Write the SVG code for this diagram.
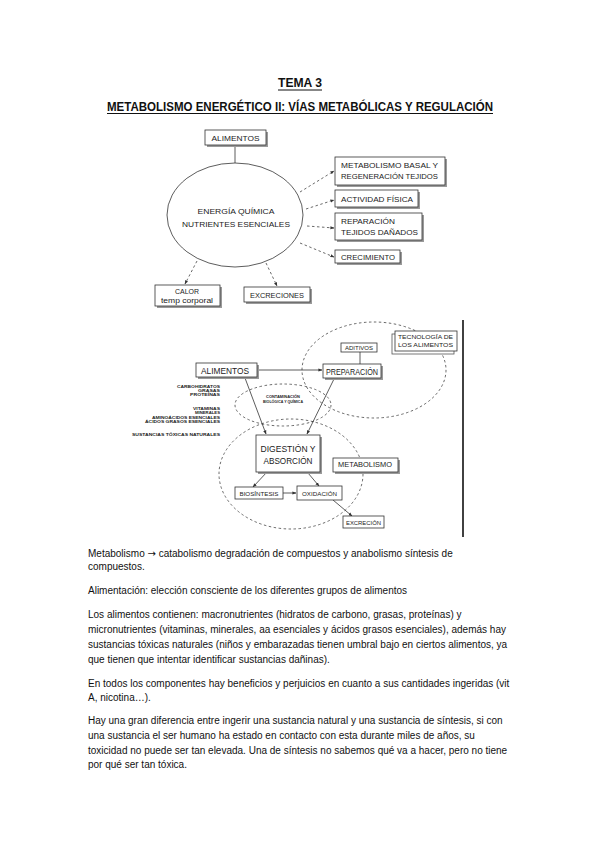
<svg xmlns="http://www.w3.org/2000/svg" width="599" height="848" viewBox="0 0 599 848">
<style>
.bg{fill:#fff}
.box{fill:#fff;stroke:#333;stroke-width:0.8}
.sh{fill:#9a9a9a}
.ln{stroke:#333;stroke-width:0.8;fill:none}
.dl{stroke:#444;stroke-width:0.8;fill:none;stroke-dasharray:2.5 2.5}
.hd{font-family:"Liberation Sans",Arial,sans-serif;fill:#222;text-anchor:middle}
.lt{font-family:"Liberation Sans",Arial,sans-serif;fill:#222}
.lb{font-family:"Liberation Sans",Arial,sans-serif;fill:#222;font-weight:bold}
.bt{font-family:"Liberation Sans",Arial,sans-serif;font-size:10px;fill:#111}
.ti{font-family:"Liberation Sans",Arial,sans-serif;font-weight:bold;fill:#111}
</style>
<defs>
<marker id="ah" viewBox="0 0 10 10" refX="9" refY="5" markerWidth="5" markerHeight="5" orient="auto">
<path d="M0,1 L10,5 L0,9 z" fill="#333"/>
</marker>
</defs>
<rect class="bg" width="599" height="848"/>

<g id="title">
<text class="ti" x="300" y="87" font-size="12.5" text-anchor="middle" textLength="44" lengthAdjust="spacingAndGlyphs">TEMA 3</text>
<line x1="278" y1="90" x2="322" y2="90" stroke="#111" stroke-width="1"/>
<text class="ti" x="107" y="110.5" font-size="12.5" textLength="386" lengthAdjust="spacingAndGlyphs">METABOLISMO ENERGÉTICO II: VÍAS METABÓLICAS Y REGULACIÓN</text>
<line x1="107" y1="113.5" x2="493" y2="113.5" stroke="#111" stroke-width="1"/>
</g>

<!-- Diagram 1 -->
<g id="d1-connectors">
<line class="ln" x1="235" y1="145" x2="235" y2="163"/>
<line class="dl" x1="300" y1="192" x2="334" y2="171" marker-end="url(#ah)"/>
<line class="dl" x1="306" y1="209" x2="334" y2="200" marker-end="url(#ah)"/>
<line class="dl" x1="307" y1="226" x2="334" y2="228" marker-end="url(#ah)"/>
<line class="dl" x1="300" y1="243" x2="334" y2="257" marker-end="url(#ah)"/>
<line class="dl" x1="197" y1="261" x2="185" y2="284" marker-end="url(#ah)"/>
<line class="dl" x1="266" y1="263" x2="277" y2="286" marker-end="url(#ah)"/>
</g>
<g id="d1-alimentos">
<rect class="sh" x="207" y="132" width="61" height="15"/>
<rect class="box" x="205" y="130" width="61" height="15"/>
<text class="hd" x="235.5" y="140.5" font-size="7" textLength="48" lengthAdjust="spacingAndGlyphs">ALIMENTOS</text>
</g>
<g id="d1-energia">
<ellipse cx="235" cy="215" rx="68" ry="52" fill="none" stroke="#333" stroke-width="0.8"/>
<text class="hd" x="236" y="213.5" font-size="8" textLength="77" lengthAdjust="spacingAndGlyphs">ENERGÍA QUÍMICA</text>
<text class="hd" x="236" y="226.5" font-size="8" textLength="108" lengthAdjust="spacingAndGlyphs">NUTRIENTES ESENCIALES</text>
</g>
<g id="d1-metabolismo">
<rect class="sh" x="337" y="159" width="110" height="28"/>
<rect class="box" x="335" y="157" width="110" height="28"/>
<text class="lt" x="341" y="168" font-size="7.5" textLength="97" lengthAdjust="spacingAndGlyphs">METABOLISMO BASAL Y</text>
<text class="lt" x="341" y="179" font-size="7.5" textLength="97" lengthAdjust="spacingAndGlyphs">REGENERACIÓN TEJIDOS</text>
</g>
<g id="d1-actividad">
<rect class="sh" x="337" y="192" width="83" height="17"/>
<rect class="box" x="335" y="190" width="83" height="17"/>
<text class="lt" x="341" y="201.5" font-size="7.5" textLength="72" lengthAdjust="spacingAndGlyphs">ACTIVIDAD FÍSICA</text>
</g>
<g id="d1-reparacion">
<rect class="sh" x="337" y="215" width="87" height="27"/>
<rect class="box" x="335" y="213" width="87" height="27"/>
<text class="lt" x="341" y="223.5" font-size="7.5" textLength="54" lengthAdjust="spacingAndGlyphs">REPARACIÓN</text>
<text class="lt" x="341" y="235" font-size="7.5" textLength="77" lengthAdjust="spacingAndGlyphs">TEJIDOS DAÑADOS</text>
</g>
<g id="d1-crecimiento">
<rect class="sh" x="337" y="252" width="65" height="13"/>
<rect class="box" x="335" y="250" width="65" height="13"/>
<text class="lt" x="341" y="259.5" font-size="7.5" textLength="54" lengthAdjust="spacingAndGlyphs">CRECIMIENTO</text>
</g>
<g id="d1-calor">
<rect class="sh" x="157" y="287" width="65" height="21"/>
<rect class="box" x="155" y="285" width="65" height="21"/>
<text class="hd" x="187" y="294" font-size="7" textLength="24" lengthAdjust="spacingAndGlyphs">CALOR</text>
<text class="hd" x="187" y="303" font-size="7" textLength="52" lengthAdjust="spacingAndGlyphs">temp corporal</text>
</g>
<g id="d1-excreciones">
<rect class="sh" x="246" y="289" width="66" height="15"/>
<rect class="box" x="244" y="287" width="66" height="15"/>
<text class="hd" x="277" y="297.5" font-size="7" textLength="54" lengthAdjust="spacingAndGlyphs">EXCRECIONES</text>
</g>

<!-- Diagram 2 -->
<g id="d2-regions">
<line x1="463" y1="320" x2="463" y2="537" stroke="#111" stroke-width="1.6"/>
<ellipse cx="374" cy="370" rx="72" ry="48" class="dl"/>
<ellipse cx="283" cy="405" rx="48" ry="21" class="dl"/>
<ellipse cx="291" cy="474" rx="72" ry="55" class="dl"/>
</g>
<g id="d2-connectors">
<line class="ln" x1="257" y1="370" x2="322" y2="370" marker-end="url(#ah)"/>
<line class="ln" x1="360" y1="352" x2="360" y2="364"/>
<line class="ln" x1="245" y1="378" x2="266" y2="434" marker-end="url(#ah)"/>
<line class="ln" x1="334" y1="379" x2="307" y2="434" marker-end="url(#ah)"/>
<line class="ln" x1="267" y1="472" x2="253" y2="487" marker-end="url(#ah)"/>
<line class="ln" x1="308" y1="473" x2="319" y2="486" marker-end="url(#ah)"/>
<line class="ln" x1="283" y1="493" x2="296" y2="493" marker-end="url(#ah)"/>
<line class="ln" x1="333" y1="500" x2="352" y2="516" marker-end="url(#ah)"/>
</g>
<g id="d2-tecnologia">
<rect x="392" y="334" width="62" height="20" fill="#fff" stroke="#555" stroke-width="0.8"/>
<rect class="box" x="395" y="331" width="62" height="20"/>
<text class="lt" x="398" y="339" font-size="6" textLength="55" lengthAdjust="spacingAndGlyphs">TECNOLOGÍA DE</text>
<text class="lt" x="398" y="347" font-size="6" textLength="55" lengthAdjust="spacingAndGlyphs">LOS ALIMENTOS</text>
</g>
<g id="d2-aditivos">
<rect class="box" x="341" y="343" width="36" height="9"/>
<text class="hd" x="359" y="349.8" font-size="5" textLength="28" lengthAdjust="spacingAndGlyphs">ADITIVOS</text>
</g>
<g id="d2-preparacion">
<rect class="sh" x="325" y="366" width="58" height="14"/>
<rect class="box" x="323" y="364" width="58" height="14"/>
<text class="hd" x="352" y="374.5" font-size="8.5" textLength="52" lengthAdjust="spacingAndGlyphs">PREPARACIÓN</text>
</g>
<g id="d2-alimentos">
<rect class="sh" x="198" y="365" width="61" height="14"/>
<rect class="box" x="196" y="363" width="61" height="14"/>
<text class="hd" x="225" y="373.5" font-size="8.5" textLength="48" lengthAdjust="spacingAndGlyphs">ALIMENTOS</text>
</g>
<g id="d2-nutrientes" font-size="4.3">
<text class="lb" x="220" y="387.5" text-anchor="end" textLength="43" lengthAdjust="spacingAndGlyphs">CARBOHIDRATOS</text>
<text class="lb" x="220" y="391.5" text-anchor="end" textLength="22" lengthAdjust="spacingAndGlyphs">GRASAS</text>
<text class="lb" x="220" y="395.5" text-anchor="end" textLength="30" lengthAdjust="spacingAndGlyphs">PROTEÍNAS</text>
<text class="lb" x="220" y="409.5" text-anchor="end" textLength="27" lengthAdjust="spacingAndGlyphs">VITAMINAS</text>
<text class="lb" x="220" y="414" text-anchor="end" textLength="25" lengthAdjust="spacingAndGlyphs">MINERALES</text>
<text class="lb" x="220" y="418.5" text-anchor="end" textLength="68" lengthAdjust="spacingAndGlyphs">AMINOÁCIDOS ESENCIALES</text>
<text class="lb" x="220" y="423" text-anchor="end" textLength="75" lengthAdjust="spacingAndGlyphs">ÁCIDOS GRASOS ESENCIALES</text>
<text class="lb" x="220" y="436" text-anchor="end" textLength="88" lengthAdjust="spacingAndGlyphs">SUSTANCIAS TÓXICAS NATURALES</text>
</g>
<g id="d2-contaminacion">
<text class="hd" x="283" y="398" font-size="4.3" font-weight="bold" textLength="34" lengthAdjust="spacingAndGlyphs">CONTAMINACIÓN</text>
<text class="hd" x="283" y="403" font-size="4.3" font-weight="bold" textLength="40" lengthAdjust="spacingAndGlyphs">BIOLÓGICA Y QUÍMICA</text>
</g>
<g id="d2-digestion">
<rect class="sh" x="258" y="437" width="64" height="37"/>
<rect class="box" x="256" y="435" width="64" height="37"/>
<text class="hd" x="288" y="451.5" font-size="9" textLength="55" lengthAdjust="spacingAndGlyphs">DIGESTIÓN Y</text>
<text class="hd" x="288" y="463.5" font-size="9" textLength="49" lengthAdjust="spacingAndGlyphs">ABSORCIÓN</text>
</g>
<g id="d2-metabolismo">
<rect class="sh" x="335" y="460" width="65" height="14"/>
<rect class="box" x="333" y="458" width="65" height="14"/>
<text class="hd" x="365" y="466.5" font-size="6.5" textLength="54" lengthAdjust="spacingAndGlyphs">METABOLISMO</text>
</g>
<g id="d2-biosintesis">
<rect class="box" x="235" y="487" width="48" height="12"/>
<text class="hd" x="259" y="495.5" font-size="6" textLength="39" lengthAdjust="spacingAndGlyphs">BIOSÍNTESIS</text>
</g>
<g id="d2-oxidacion">
<rect class="box" x="297" y="486" width="45" height="14"/>
<text class="hd" x="319.5" y="495.5" font-size="6" textLength="35" lengthAdjust="spacingAndGlyphs">OXIDACIÓN</text>
</g>
<g id="d2-excrecion">
<rect class="box" x="343" y="516" width="41" height="12"/>
<text class="hd" x="363.5" y="524.5" font-size="6" textLength="35" lengthAdjust="spacingAndGlyphs">EXCRECIÓN</text>
</g>

<g id="body">
<text class="bt" x="88" y="557">Metabolismo <tspan font-family="DejaVu Sans, sans-serif">→</tspan> catabolismo degradación de compuestos y anabolismo síntesis de</text>
<text class="bt" x="88" y="570">compuestos.</text>
<text class="bt" x="88" y="594">Alimentación: elección consciente de los diferentes grupos de alimentos</text>
<text class="bt" x="88" y="618">Los alimentos contienen: macronutrientes (hidratos de carbono, grasas, proteínas) y</text>
<text class="bt" x="88" y="633">micronutrientes (vitaminas, minerales, aa esenciales y ácidos grasos esenciales), además hay</text>
<text class="bt" x="88" y="648">sustancias tóxicas naturales (niños y embarazadas tienen umbral bajo en ciertos alimentos, ya</text>
<text class="bt" x="88" y="663">que tienen que intentar identificar sustancias dañinas).</text>
<text class="bt" x="88" y="687">En todos los componentes hay beneficios y perjuicios en cuanto a sus cantidades ingeridas (vit</text>
<text class="bt" x="88" y="701">A, nicotina…).</text>
<text class="bt" x="88" y="724">Hay una gran diferencia entre ingerir una sustancia natural y una sustancia de síntesis, si con</text>
<text class="bt" x="88" y="739">una sustancia el ser humano ha estado en contacto con esta durante miles de años, su</text>
<text class="bt" x="88" y="754">toxicidad no puede ser tan elevada. Una de síntesis no sabemos qué va a hacer, pero no tiene</text>
<text class="bt" x="88" y="768">por qué ser tan tóxica.</text>
</g>
</svg>
